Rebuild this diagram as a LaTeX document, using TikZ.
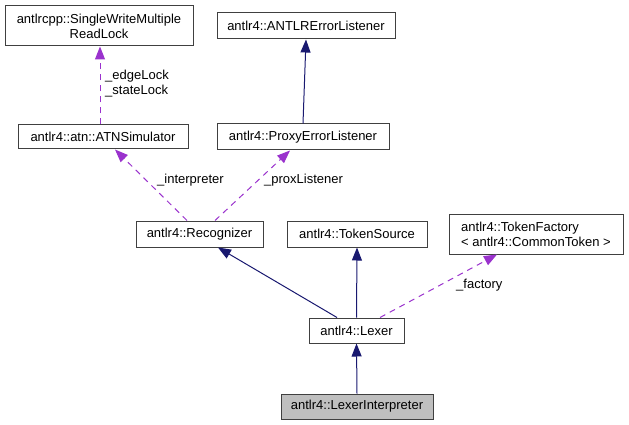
\documentclass[tikz,border=0pt]{standalone}
\usepackage{fontspec}
\setmainfont{Liberation Sans}
\usetikzlibrary{arrows.meta,calc}
\definecolor{navyedge}{HTML}{191970}
\definecolor{purpedge}{HTML}{9A32CD}
\definecolor{boxline}{HTML}{404040}
\definecolor{grayfill}{HTML}{BFBFBF}
\begin{document}
\begin{tikzpicture}[x=1pt,y=-1pt,
  cls/.style={draw=boxline,line width=1pt,inner sep=0pt,font=\fontsize{13}{15}\selectfont,fill=white},
  lbl/.style={inner sep=0pt,anchor=west,font=\fontsize{13}{15}\selectfont,align=left},
  inh/.style={navyedge,line width=1pt,-{Triangle[length=13pt,width=10pt]}},
  use/.style={purpedge,line width=1pt,dash pattern=on 6pt off 5pt,-{Triangle[length=13pt,width=10pt]}}]
\useasboundingbox (0,0) rectangle (629,425);
\node[cls,minimum width=188pt,minimum height=40pt,align=center] (lock) at (99,26) {antlrcpp::SingleWriteMultiple\\ReadLock};
\node[cls,minimum width=170pt,minimum height=24pt] (atn) at (103,137) {antlr4::atn::ATNSimulator};
\node[cls,minimum width=178pt,minimum height=26pt] (ael) at (306,26) {antlr4::ANTLRErrorListener};
\node[cls,minimum width=172pt,minimum height=26pt] (pel) at (303,137) {antlr4::ProxyErrorListener};
\node[cls,minimum width=127pt,minimum height=26pt] (rec) at (199.5,234) {antlr4::Recognizer};
\node[cls,minimum width=140pt,minimum height=26pt] (ts) at (357,234) {antlr4::TokenSource};
\node[cls,minimum width=174pt,minimum height=40pt,align=left] (tf) at (536,234) {antlr4::TokenFactory\\< antlr4::CommonToken >};
\node[cls,minimum width=95pt,minimum height=25pt] (lex) at (356.5,330.5) {antlr4::Lexer};
\node[cls,minimum width=152pt,minimum height=25pt,fill=grayfill] (li) at (357,406.5) {antlr4::LexerInterpreter};
% inheritance
\draw[inh] ([xshift=-19.5pt]lex.north) -- ([xshift=18.5pt]rec.south);
\draw[inh] (lex.north) -- (ts.south);
\draw[inh] (li.north) -- (lex.south);
\draw[inh] (pel.north) -- (ael.south);
% usage
\draw[use] ([xshift=23.5pt]lex.north) -- ([xshift=-39pt]tf.south);
\draw[use] ([xshift=-12.5pt]rec.north) -- ([xshift=12pt]atn.south);
\draw[use] ([xshift=15.5pt]rec.north) -- ([xshift=-13pt]pel.south);
\draw[use] ([xshift=-3pt]atn.north) -- ([xshift=1pt]lock.south);
% labels
\node[lbl] (lblock) at (105,84) {\_edgeLock\\\_stateLock};
\node[lbl] (lblint) at (157,180) {\_interpreter};
\node[lbl] (lblprox) at (264,180) {\_proxListener};
\node[lbl] (lblfac) at (456,285) {\_factory};
\end{tikzpicture}
\end{document}
